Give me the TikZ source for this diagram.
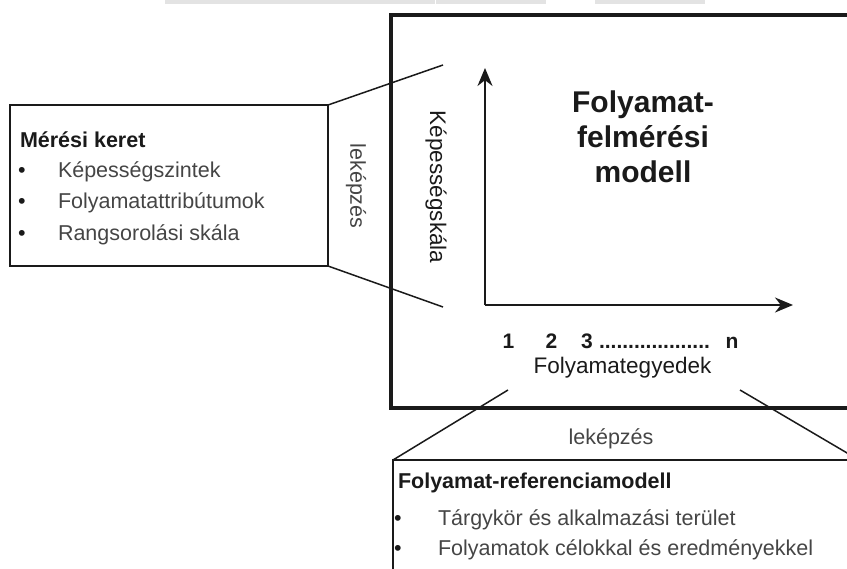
\documentclass[tikz,border=0pt]{standalone}
\usepackage{fontspec}
\setmainfont{Liberation Sans}
\usetikzlibrary{arrows.meta}
\definecolor{ink}{HTML}{1A1A1A}
\definecolor{itemgrey}{HTML}{454545}
\definecolor{barfill}{HTML}{E3E3E3}
\begin{document}
\begin{tikzpicture}[x=1bp,y=-1bp,
  txt/.style={inner sep=0pt, outer sep=0pt, anchor=base west, text=ink},
  head/.style={txt, font=\fontsize{21.5bp}{24bp}\selectfont\bfseries},
  item/.style={txt, text=itemgrey, font=\fontsize{21.5bp}{24bp}\selectfont},
  bul/.style={txt, anchor=base, font=\fontsize{21.5bp}{24bp}\selectfont},
  frame/.style={draw=ink, line width=4bp, inner sep=0pt, outer sep=0pt, anchor=north west},
  panel/.style={draw=ink, line width=1.5bp, inner sep=0pt, outer sep=0pt, anchor=north west},
  link/.style={draw=ink, line width=1.5bp},
  axis/.style={draw=ink, line width=2bp, -{Stealth[length=18bp, width=15bp]}},
  sidelabel/.style={inner sep=0pt, text=itemgrey, rotate=-90, font=\fontsize{21.5bp}{24bp}\selectfont},
  tick/.style={txt, anchor=base, font=\fontsize{21bp}{24bp}\selectfont\bfseries}
]
\useasboundingbox (0,0) rectangle (847,569);
\clip (0,0) rectangle (847,569);

% faint strips along the upper edge
\node[fill=barfill, inner sep=0pt, anchor=north west, minimum width=270bp, minimum height=4bp] (stripA) at (165,0) {};
\node[fill=barfill, inner sep=0pt, anchor=north west, minimum width=110bp, minimum height=4bp] (stripB) at (436,0) {};
\node[fill=barfill, inner sep=0pt, anchor=north west, minimum width=110bp, minimum height=4bp] (stripC) at (595,0) {};

% main model frame
\node[frame, minimum width=520bp, minimum height=393bp] (model) at (391,15) {};

% measurement framework panel
\node[panel, minimum width=318bp, minimum height=161bp] (meres) at (10,105) {};
\node[head] (meresT) at (20,148) {Mérési keret};
\node[bul] (mb1) at (22,178) {•};
\node[item] (mi1) at (58,178) {Képességszintek};
\node[bul] (mb2) at (22,209) {•};
\node[item] (mi2) at (58,209) {Folyamatattribútumok};
\node[bul] (mb3) at (22,241) {•};
\node[item] (mi3) at (58,241) {Rangsorolási skála};

% reference model panel
\node[panel, minimum width=466bp, minimum height=200bp] (ref) at (393,460) {};
\node[head] (refT) at (398,488) {Folyamat-referenciamodell};
\node[bul] (rb1) at (398,525) {•};
\node[item] (ri1) at (438,525) {Tárgykör és alkalmazási terület};
\node[bul] (rb2) at (398,555) {•};
\node[item] (ri2) at (438,555) {Folyamatok célokkal és eredményekkel};

% mapping connectors
\coordinate (lu) at (443,65);
\coordinate (ll) at (443,307);
\coordinate (bl) at (508,390);
\coordinate (br) at (740,390);
\draw[link] (meres.north east) -- (lu);
\draw[link] (meres.south east) -- (ll);
\draw[link] (bl) -- (ref.north west);
\draw[link] (br) -- (ref.north east);

\node[sidelabel] (mapL) at (356,186) {leképzés};
\node[inner sep=0pt, text=itemgrey, font=\fontsize{21.5bp}{24bp}\selectfont, anchor=base] (mapB) at (611,444) {leképzés};

% axes
\coordinate (origin) at (485,305);
\coordinate (ytop) at (485,68);
\coordinate (xend) at (793,305);
\draw[axis] (origin) -- (ytop);
\draw[axis] (origin) -- (xend);

\node[sidelabel, text=ink, font=\fontsize{22.5bp}{24bp}\selectfont] (scale) at (436,187) {Képességskála};

\node[inner sep=0pt, text=ink, align=center, anchor=base,
      font=\fontsize{30bp}{35bp}\selectfont\bfseries] (title) at (643,183)
      {Folyamat-\\felmérési\\modell};

\node[tick] (t1) at (508.5,348) {1};
\node[tick] (t2) at (551.5,348) {2};
\node[tick] (t3) at (587,348) {3};
\node[txt, font=\fontsize{21bp}{24bp}\selectfont\bfseries] (tdots) at (599,348) {...................};
\node[tick] (tn) at (732,348) {n};
\node[txt, anchor=base, font=\fontsize{22.5bp}{24bp}\selectfont] (units) at (622.5,373) {Folyamategyedek};
\end{tikzpicture}
\end{document}
